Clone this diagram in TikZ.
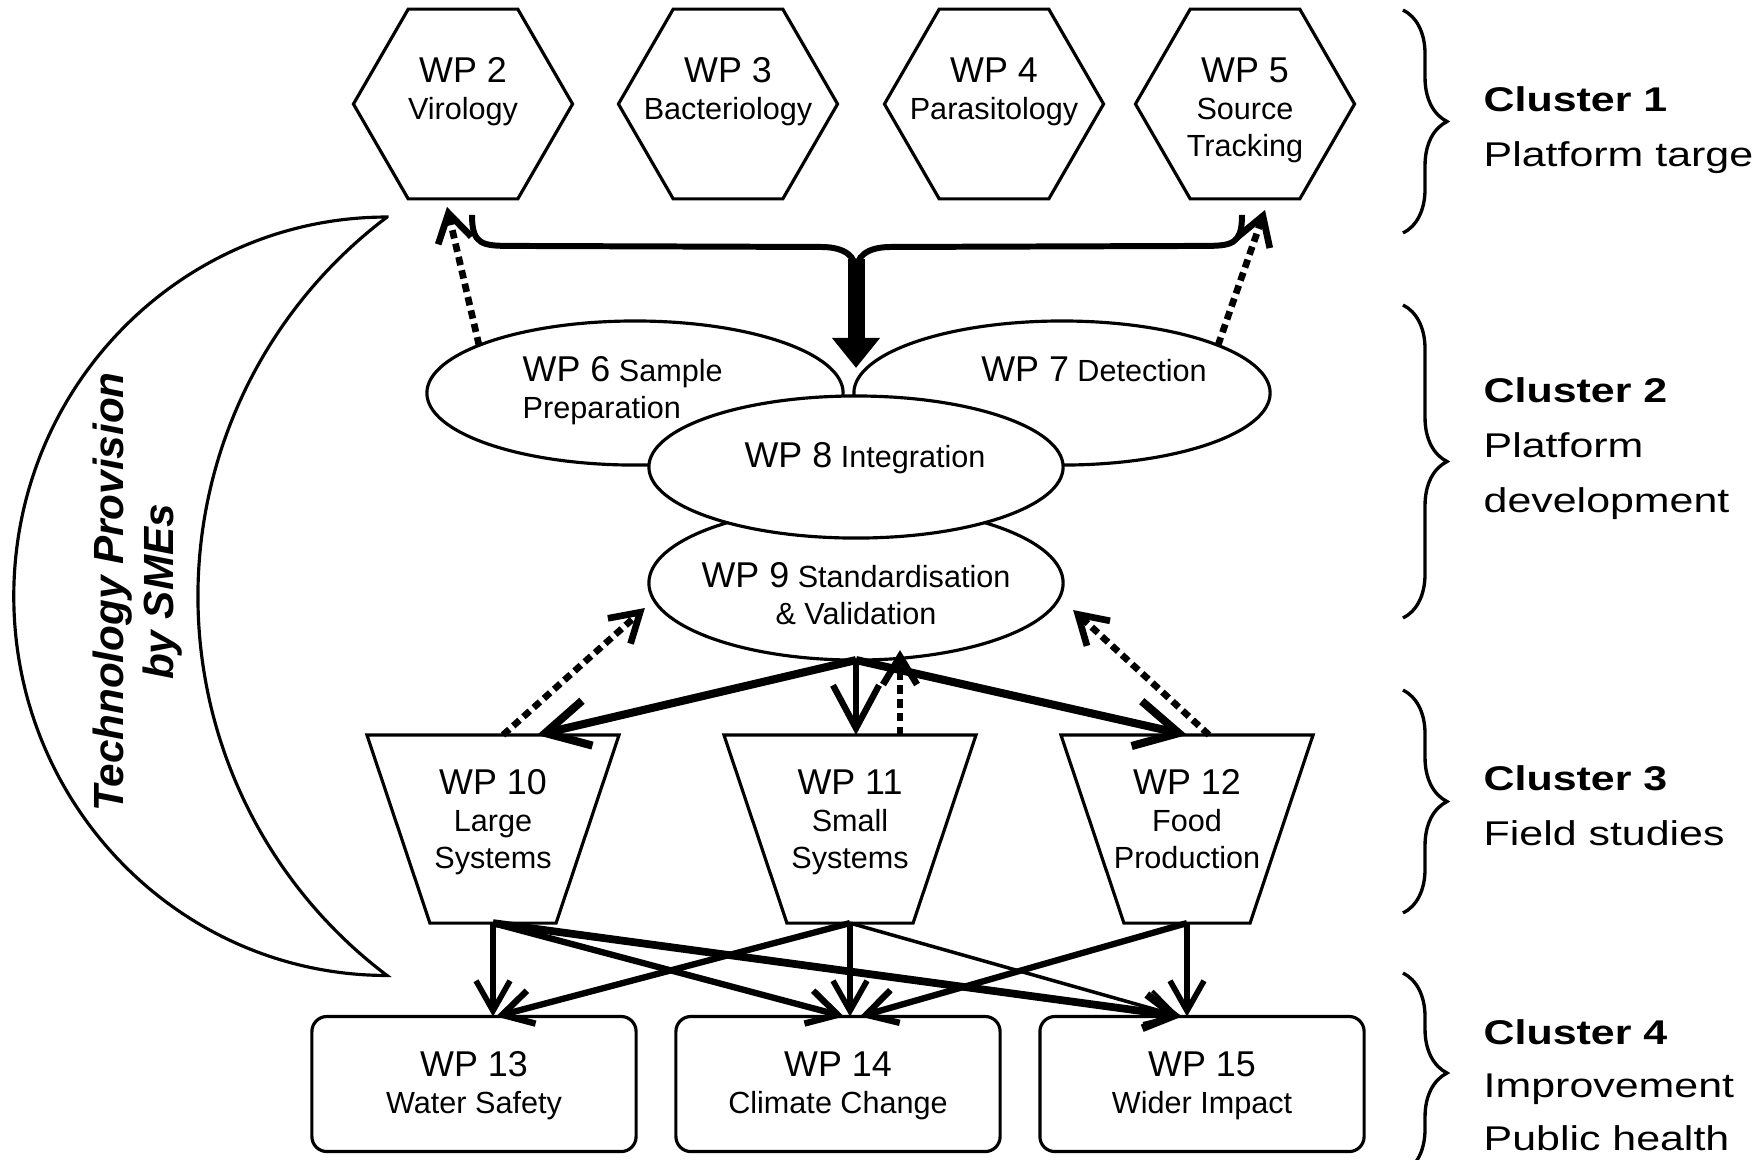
\documentclass[tikz,border=0pt]{standalone}
\usepackage{fontspec}
\setmainfont{Liberation Sans}
\newfontfamily\clusterfont{Liberation Sans}[FakeStretch=1.25]
\usetikzlibrary{shapes.geometric,arrows.meta,decorations.pathreplacing}

\newcommand{\wpno}[1]{{\fontsize{10.2}{10.5}\selectfont WP #1}}

\tikzset{
  hexa/.style={draw, line width=0.9pt, regular polygon, regular polygon sides=6,
    minimum size=2.19cm, inner sep=0pt, outer sep=0pt},
  blob/.style={draw, line width=0.9pt, fill=white, ellipse, inner sep=0pt, outer sep=0pt},
  funnel/.style={rectangle, minimum width=2.52cm, minimum height=1.88cm, inner sep=0pt, outer sep=0pt},
  outcome/.style={draw, line width=0.9pt, rectangle, rounded corners=0.15cm,
    minimum width=3.24cm, minimum height=1.35cm, inner sep=0pt, outer sep=0pt},
  wptext/.style={align=center, inner sep=0pt, anchor=north, font=\fontsize{8.7}{10.5}\selectfont},
  cluster/.style={align=left, inner sep=0pt, anchor=north west, font=\clusterfont\fontsize{9.76}{15.65}\selectfont},
  clbrace/.style={decorate, decoration={brace, amplitude=0.44cm}, line width=0.95pt},
  flow/.style={line width=#1, -{Straight Barb[length=0.3cm, width=0.34cm]}},
  bigflow/.style={line width=#1, -{Straight Barb[length=0.43cm, width=0.46cm]}},
  feedback/.style={line width=1.9pt, dash pattern=on 2.4pt off 1.5pt,
    -{Straight Barb[length=0.28cm, width=0.34cm]}},
  merge/.style={line width=1.7pt},
  trunk/.style={line width=0.17cm, -{Triangle[length=0.3cm, width=0.46cm]}},
}

\begin{document}
\begin{tikzpicture}[x=0.01cm, y=-0.01cm]
  \useasboundingbox (0,0) rectangle (1758,1159);

  % cluster 1
  \node[hexa] (wp2) at (463,104) {};
  \node[hexa] (wp3) at (728,104) {};
  \node[hexa] (wp4) at (994,104) {};
  \node[hexa] (wp5) at (1245,104) {};
  \node[wptext] (wp2t) at ([shift={(0,-47)}]wp2.center) {\wpno{2}\\Virology};
  \node[wptext] (wp3t) at ([shift={(0,-47)}]wp3.center) {\wpno{3}\\Bacteriology};
  \node[wptext] (wp4t) at ([shift={(0,-47)}]wp4.center) {\wpno{4}\\Parasitology};
  \node[wptext] (wp5t) at ([shift={(0,-47)}]wp5.center) {\wpno{5}\\Source\\Tracking};

  % cluster 2
  \node[blob, minimum width=4.14cm, minimum height=1.54cm] (wp9) at (856,583) {};
  \node[blob, minimum width=4.16cm, minimum height=1.44cm] (wp6) at (635,393) {};
  \node[blob, minimum width=4.16cm, minimum height=1.44cm] (wp7) at (1062,393) {};
  \node[blob, minimum width=4.14cm, minimum height=1.42cm] (wp8) at (856,467) {};
  \node[wptext, anchor=north west, align=left] (wp6t) at ([shift={(-113,-37)}]wp6.center) {\wpno{6} Sample\\Preparation};
  \node[wptext] (wp7t) at ([shift={(32,-37)}]wp7.center) {\wpno{7} Detection};
  \node[wptext] (wp8t) at ([shift={(9,-25)}]wp8.center) {\wpno{8} Integration};
  \node[wptext] (wp9t) at ([shift={(0,-21)}]wp9.center) {\wpno{9} Standardisation\\\& Validation};

  % cluster 3
  \node[funnel] (wp10) at (493,829) {};
  \node[funnel] (wp11) at (850,829) {};
  \node[funnel] (wp12) at (1187,829) {};
  \foreach \n in {wp10,wp11,wp12}
    \draw[line width=0.9pt] (\n.north west) -- (\n.north east) -- ([shift={(-63,0)}]\n.south east)
      -- ([shift={(63,0)}]\n.south west) -- cycle;
  \node[wptext] (wp10t) at ([shift={(0,-60)}]wp10.center) {\wpno{10}\\Large\\Systems};
  \node[wptext] (wp11t) at ([shift={(0,-60)}]wp11.center) {\wpno{11}\\Small\\Systems};
  \node[wptext] (wp12t) at ([shift={(0,-60)}]wp12.center) {\wpno{12}\\Food\\Production};

  % cluster 4
  \node[outcome] (wp13) at (474,1084) {};
  \node[outcome] (wp14) at (838,1084) {};
  \node[outcome] (wp15) at (1202,1084) {};
  \node[wptext] (wp13t) at ([shift={(0,-33)}]wp13.center) {\wpno{13}\\Water Safety};
  \node[wptext] (wp14t) at ([shift={(0,-33)}]wp14.center) {\wpno{14}\\Climate Change};
  \node[wptext] (wp15t) at ([shift={(0,-33)}]wp15.center) {\wpno{15}\\Wider Impact};

  % SME crescent
  \draw[line width=0.9pt] (387,217) arc[start angle=90, end angle=270, x radius=3.73cm, y radius=3.79cm]
    arc[start angle=233, end angle=127, radius=4.745cm] -- cycle;
  \node[rotate=90, align=center, inner sep=0pt, font=\bfseries\itshape\fontsize{12}{14.2}\selectfont]
    (sme) at (138,592) {Technology Provision\\by SMEs};

  % braces and cluster names
  \draw[clbrace] (1403,10) -- (1403,233);
  \draw[clbrace] (1403,305) -- (1403,618);
  \draw[clbrace] (1403,690) -- (1403,913);
  \draw[clbrace] (1403,973) -- (1403,1173);
  \node[cluster] (c1) at (1483,86) {\textbf{Cluster 1}\\Platform targe};
  \node[cluster] (c2) at (1483,377) {\textbf{Cluster 2}\\Platform\\development};
  \node[cluster] (c3) at (1483,765) {\textbf{Cluster 3}\\Field studies};
  \node[cluster, font=\clusterfont\fontsize{9.76}{15.1}\selectfont] (c4) at (1483,1019) {\textbf{Cluster 4}\\Improvement\\Public health};

  % targets feed into the platform
  \coordinate (fork) at ([shift={(0,-149)}]wp8.north);
  \draw[merge] ([shift={(9,16)}]wp2.south) .. controls +(0,30) and +(-30,0) .. ++(40,31)
    -- ([shift={(-35,0)}]fork) .. controls +(25,0) and +(0,-15) .. ([shift={(0,25)}]fork);
  \draw[merge] ([shift={(-3,16)}]wp5.south) .. controls +(0,30) and +(30,0) .. ++(-40,31)
    -- ([shift={(35,0)}]fork) .. controls +(-25,0) and +(0,-15) .. ([shift={(0,25)}]fork);
  \draw[trunk] ([shift={(0,12)}]fork) -- ([shift={(0,121)}]fork);

  \draw[feedback] (wp6.163) -- ([shift={(-16,8)}]wp2.south);
  \draw[feedback] (wp7.17) -- ([shift={(20,11)}]wp5.south);

  % platform to field studies
  \draw[bigflow=2.3pt] (wp9.south) -- ([shift={(44,0)}]wp10.north);
  \draw[bigflow=1.8pt] (wp9.south) -- (wp9.south |- wp11.north);
  \draw[bigflow=2.3pt] (wp9.south) -- (wp12.north);
  \draw[feedback] ([shift={(10,0)}]wp10.north) -- ([shift={(-4,25)}]wp9.west);
  \draw[feedback] ([shift={(50,0)}]wp11.north) -- ([shift={(44,-10)}]wp9.south);
  \draw[feedback] ([shift={(22,0)}]wp12.north) -- ([shift={(10,27)}]wp9.east);

  % field studies to outcomes
  \draw[flow=1.6pt] (wp10.south) -- (wp10.south |- wp13.north);
  \draw[flow=1.8pt] (wp10.south) -- ([shift={(6,0)}]wp14.north);
  \draw[flow=2.2pt] (wp10.south) -- ([shift={(-20,0)}]wp15.north);
  \draw[flow=1.8pt] (wp11.south) -- ([shift={(22,0)}]wp13.north);
  \draw[flow=1.6pt] (wp11.south) -- (wp11.south |- wp14.north);
  \draw[flow=1pt] (wp11.south) -- ([shift={(-22,0)}]wp15.north);
  \draw[flow=1.8pt] (wp12.south) -- ([shift={(22,0)}]wp14.north);
  \draw[flow=1.6pt] (wp12.south) -- (wp12.south |- wp15.north);
\end{tikzpicture}
\end{document}
